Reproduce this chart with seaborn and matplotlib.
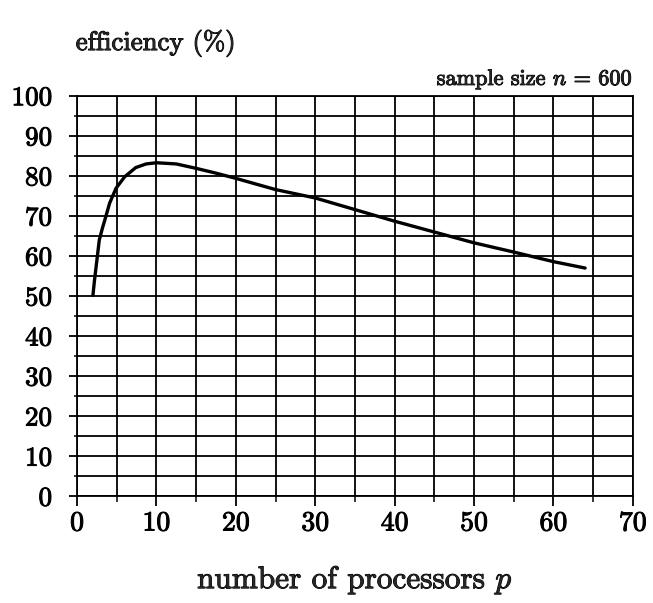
"""
Efficiency vs number of processors, sample size n = 600.
"""

from matplotlib import pyplot as plt
from matplotlib import patheffects as pe
from matplotlib.ticker import MultipleLocator
import numpy as np
import pandas as pd
import seaborn as sns

# values
processors = [2, 2.2, 2.4, 2.8, 3.2, 3.5, 4.1, 4.9, 6, 7.4, 8.7, 10, 12.5, 15,
              17.5, 20, 25, 30, 35, 40, 45, 50, 55, 60, 64]
efficiency = [50.2, 54, 57.3, 64, 67, 69, 73.2, 76.9, 79.8, 82.1, 83, 83.3, 83,
              81.9, 80.7, 79.4, 76.6, 74.5, 71.6, 68.7, 66, 63.3, 61, 58.6, 57]
x_ticks = [0, 10, 20, 30, 40, 50, 60, 70]
y_ticks = [0, 10, 20, 30, 40, 50, 60, 70, 80, 90, 100]

df = pd.DataFrame({"p": processors, "eff": efficiency})

sns.set_style("ticks")
plt.rcParams["font.family"] = ["cmr10", "DejaVu Serif"]
plt.rcParams["mathtext.fontset"] = "cm"
plt.rcParams["axes.unicode_minus"] = False

bold = [pe.withStroke(linewidth=0.7, foreground="black")]

fig = plt.figure(figsize=(6.53, 6.03), dpi=100)
ax = fig.add_axes([0.118, 0.177, 0.851, 0.664])

sns.lineplot(data=df, x="p", y="eff", ax=ax, color="black", linewidth=2.4,
             estimator=None, sort=False)

ax.set_xlim(0, 70)
ax.set_ylim(0, 100)
ax.set_xticks(x_ticks)
ax.set_xticklabels([str(t) for t in x_ticks])
ax.set_yticks(y_ticks)
ax.set_yticklabels([str(t) for t in y_ticks])
ax.xaxis.set_minor_locator(MultipleLocator(5))
ax.yaxis.set_minor_locator(MultipleLocator(5))
ax.grid(True, which="both", color="black", linewidth=1.3)

for s in ax.spines.values():
    s.set_color("black")
    s.set_linewidth(1.3)

ax.tick_params(axis="x", which="major", length=7, width=1.3, pad=3, labelsize=20, colors="black")
ax.tick_params(axis="x", which="minor", length=4, width=1.3)
ax.tick_params(axis="y", which="major", length=6, width=1.3, pad=12, labelsize=19.5, colors="black")
ax.tick_params(axis="y", which="minor", length=2, width=1.3)
for lab in ax.get_xticklabels() + ax.get_yticklabels():
    lab.set_path_effects(bold)

ax.set_xlabel("number of processors $p$", fontsize=22.5, labelpad=20, path_effects=bold)
ax.set_ylabel("")

fig.text(0.116, 0.917, "efficiency (%)", fontsize=19.3, ha="left", va="baseline",
         path_effects=bold)
fig.text(0.969, 0.859, "sample size $n$ = 600", fontsize=16, ha="right",
         va="baseline", path_effects=bold)

fig.savefig("out.png", dpi=100)
